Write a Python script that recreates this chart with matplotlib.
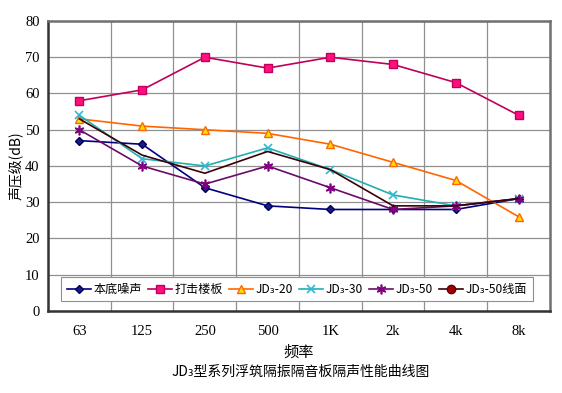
import matplotlib.pyplot as plt
from matplotlib.lines import Line2D

plt.rcParams['font.family'] = ['Noto Sans CJK SC', 'DejaVu Sans']

freqs = ["63", "125", "250", "500", "1K", "2k", "4k", "8k"]
bg_noise = [47, 46, 34, 29, 28, 28, 28, 31]
impact = [58, 61, 70, 67, 70, 68, 63, 54]
jd20 = [53, 51, 50, 49, 46, 41, 36, 26]
jd30 = [54, 42, 40, 45, 39, 32, 29, 31]
jd50 = [50, 40, 35, 40, 34, 28, 29, 31]
jd50_line = [53, 43, 38, 44, 39, 29, 29, 31]

names = ["本底噪声", "打击楼板", "JD₃-20", "JD₃-30", "JD₃-50", "JD₃-50线面"]

fig = plt.figure(figsize=(5.62, 3.93), dpi=100)
ax = fig.add_axes([0.0854, 0.2087, 0.8932, 0.7379])

x = range(len(freqs))
serif = ['Liberation Serif', 'DejaVu Serif']

h1, = ax.plot(x, bg_noise, color="#000080", lw=1.2, marker="D", ms=4.5,
              mfc="#1a1a80", mec="#000060")
h2, = ax.plot(x, impact, color="#c0005a", lw=1.2, marker="s", ms=6,
              mfc="#ff0f80", mec="#c0005a")
h3, = ax.plot(x, jd20, color="#ff6600", lw=1.2, marker="^", ms=6,
              mfc="#ffdd00", mec="#ff6600")
h4, = ax.plot(x, jd30, color="#20b0b0", lw=1.2, marker="x", ms=6,
              mec="#30b8d8", mew=1.2)
h5, = ax.plot(x, jd50, color="#6a0a6a", lw=1.2, marker=(6, 2, 0), ms=7,
              mec="#800080", mew=1.2)
ax.plot(x, jd50_line, color="#3a0008", lw=1.2)
h6 = Line2D([], [], color="#3a0008", lw=1.2, marker="o", ms=6,
            mfc="#a00000", mec="#600000")

ax.set_xlim(-0.5, 7.5)
ax.set_ylim(0, 80)
ax.set_yticks(range(0, 81, 10))
ax.set_xticks(list(x))
ax.set_xticklabels(freqs, family=serif, fontsize=10.5)
for t in ax.get_yticklabels():
    t.set_family(serif)
    t.set_fontsize(10.5)
ax.set_xticks([i + 0.5 for i in range(7)], minor=True)
ax.tick_params(axis="x", which="both", length=0, pad=10)
ax.tick_params(axis="y", length=0, pad=6)
ax.grid(True, axis="y", color="#909090", lw=0.9)
ax.grid(True, axis="x", which="minor", color="#909090", lw=0.9)
ax.set_axisbelow(True)
for s in ["left", "bottom"]:
    ax.spines[s].set_color("#333333")
    ax.spines[s].set_linewidth(1.8)
for s in ["top", "right"]:
    ax.spines[s].set_color("#707070")
    ax.spines[s].set_linewidth(1.8)

ax.set_xlabel("频率", fontsize=11, labelpad=4)
ax.set_ylabel("声压级(dB)", fontsize=10, labelpad=2)

leg = ax.legend([h1, h2, h3, h4, h5, h6], names, ncol=6, loc="lower center",
                bbox_to_anchor=(0.496, 0.025), fontsize=8.7, handlelength=2.0,
                handletextpad=0.25, columnspacing=0.45, borderpad=0.45,
                borderaxespad=0.2, fancybox=False, framealpha=1,
                edgecolor="#909090")
leg.get_frame().set_linewidth(0.8)

fig.text(0.535, 0.045, "JD₃型系列浮筑隔振隔音板隔声性能曲线图", ha="center",
         fontsize=10)

fig.savefig("out.png", dpi=100, facecolor="white")
